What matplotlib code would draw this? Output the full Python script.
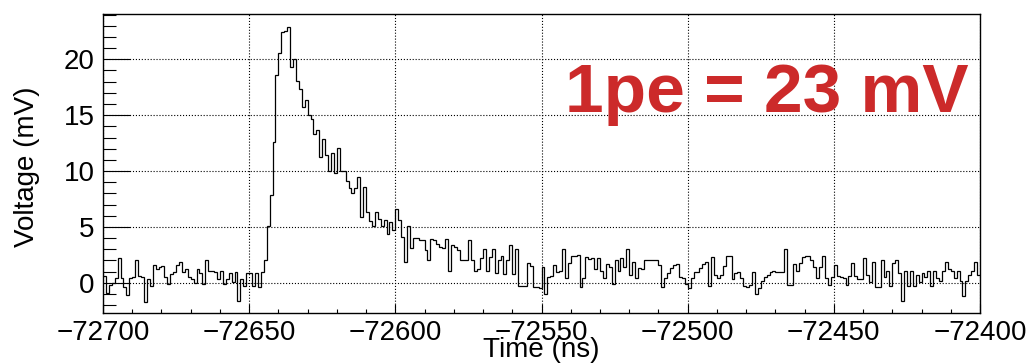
import numpy as np
import matplotlib
matplotlib.use("Agg")
import matplotlib.pyplot as plt
from matplotlib.ticker import MultipleLocator

plt.rcParams["font.family"] = ["Liberation Sans", "DejaVu Sans"]

# waveform: one value per 1 ns bin, from -72700 to -72400 ns
T_START = -72700
T_STOP = -72400
voltage_mv = [
    0.6, -0.9, -0.2, 0.0, 0.4, 2.2, 0.4, -0.4, -1.1, 0.4,
    0.5, 2.0, 0.6, 0.5, -1.7, 0.3, -0.3, 1.6, 1.2, 1.4,
    1.5, 0.5, -0.1, 0.8, 1.0, 1.6, 1.9, 1.0, 1.2, 0.5,
    0.3, 0.0, 1.2, 0.9, -0.1, 2.0, 1.1, 1.1, 1.0, 0.3,
    1.1, -0.1, 0.3, 0.9, 0.1, 1.0, -1.6, 0.3, -0.3, 0.9,
    0.9, -0.3, 0.9, -0.4, 1.0, 2.0, 5.1, 7.9, 12.6, 18.6,
    20.6, 22.4, 22.5, 22.9, 19.3, 20.0, 18.1, 17.3, 15.7, 16.4,
    15.0, 14.7, 13.3, 13.7, 11.3, 12.9, 11.4, 10.0, 11.6, 9.8,
    12.1, 10.0, 10.0, 9.1, 8.5, 8.0, 8.5, 9.5, 5.9, 8.6,
    6.3, 5.5, 5.1, 6.3, 5.7, 5.1, 5.6, 4.4, 5.4, 4.7,
    6.6, 5.6, 4.1, 1.9, 5.1, 3.1, 4.0, 4.0, 3.8, 3.8,
    2.9, 2.0, 3.9, 3.8, 3.5, 3.2, 3.1, 3.9, 1.1, 3.4,
    3.2, 2.9, 2.0, 2.0, 2.0, 3.8, 2.0, 1.1, 1.2, 2.2,
    3.0, 1.1, 2.3, 3.0, 0.9, 2.0, 2.4, 0.8, 2.0, 3.4,
    0.8, 3.0, -0.3, -0.3, -0.3, 1.8, 1.5, -0.4, -0.4, -0.5,
    1.4, -1.0, 0.5, 0.6, 1.6, 1.0, 1.1, 3.0, 0.4, 1.8,
    2.4, 2.4, 2.5, -0.4, 0.4, 2.3, 2.1, 2.2, 1.2, 2.2,
    1.1, 0.4, 1.7, 1.4, -0.1, 2.0, 1.1, 2.2, 1.4, 3.0,
    0.7, 1.9, 0.4, 1.3, 1.2, 2.0, 2.0, 2.0, 2.0, 2.0,
    1.6, -0.4, 0.4, 0.9, 1.3, 1.6, 1.7, 0.5, 0.4, -0.1,
    -0.5, 0.4, 1.0, 1.0, 1.3, 1.7, 1.9, -0.3, 2.3, 0.7,
    0.4, 0.7, 1.5, 2.4, 2.4, 0.3, 0.9, 1.0, 0.4, -0.3,
    -0.4, -0.2, 1.0, -1.0, -0.5, 0.2, 0.5, 0.7, 1.0, 1.1,
    1.0, 1.0, 1.0, 3.0, -0.2, -0.2, 1.7, 1.1, 1.8, 2.3,
    2.4, 2.4, 2.0, 1.4, 0.4, 1.4, 2.4, 0.4, -0.2, 0.5,
    1.6, 0.6, 0.5, 0.4, -0.2, 0.6, 1.8, 0.6, 0.3, 0.3,
    2.2, 0.7, 0.1, 1.9, -0.4, -0.4, 2.0, 0.5, 1.1, -0.3,
    1.8, 2.0, 0.9, -1.6, 1.1, -0.3, 1.1, -0.3, 0.7, 0.1,
    0.9, 0.5, 1.1, -0.3, 1.1, 0.4, 0.2, 1.1, 1.9, 1.2,
    1.1, 0.4, 1.1, 0.2, -1.2, 0.2, 0.7, 1.1, 1.9, 0.7,
]
y_range = (-2.7, 24.05)
label_text = "1pe = 23 mV"

edges = np.linspace(T_START, T_STOP, len(voltage_mv) + 1)

fig = plt.figure(figsize=(10.31, 3.64), dpi=100)
ax = fig.add_axes([103 / 1031, 1 - 313 / 364, 877 / 1031, 299 / 364])

ax.stairs(voltage_mv, edges, baseline=None, color="black", linewidth=0.9)

ax.set_xlim(T_START, T_STOP)
ax.set_ylim(*y_range)

ax.xaxis.set_major_locator(MultipleLocator(50))
ax.xaxis.set_minor_locator(MultipleLocator(10))
ax.yaxis.set_major_locator(MultipleLocator(5))
ax.yaxis.set_minor_locator(MultipleLocator(1))

ax.tick_params(axis="both", which="both", direction="in", top=False, right=False,
               labelsize=20, width=0.8)
ax.tick_params(axis="y", which="major", length=19.4, pad=6)
ax.tick_params(axis="y", which="minor", length=9.6)
ax.tick_params(axis="x", which="major", length=6.5, pad=5)
ax.tick_params(axis="x", which="minor", length=3.2)

ax.grid(True, which="major", linestyle=":", color="black", linewidth=0.8)
for s in ax.spines.values():
    s.set_linewidth(1.0)

fig.text(541 / 1031, 1 - 337 / 364, "Time (ns)", ha="center", va="top", fontsize=20)
fig.text(27 / 1031, 1 - 167 / 364, "Voltage (mV)", ha="center", va="center",
         rotation=90, fontsize=20)

fig.text(565 / 1031, 1 - 112 / 364, label_text, ha="left", va="baseline",
         fontsize=50, fontweight="bold", color="#cc2a2a")

fig.savefig("out.png", dpi=100)
